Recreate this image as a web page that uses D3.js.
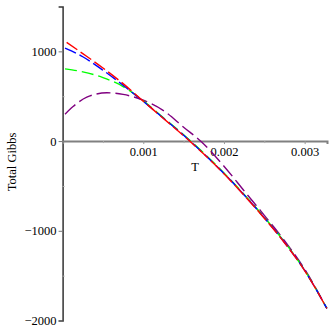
<!DOCTYPE html>
<html>
<head>
<meta charset="utf-8">
<script src="https://cdn.jsdelivr.net/npm/d3@7"></script>
<style>
  html, body { margin: 0; padding: 0; background: #fff; }
</style>
</head>
<body>
<div id="chart"></div>
<script>
// T values (x) and Total Gibbs values (y)
const redT = [0.00005, 0.00025, 0.0005, 0.00075, 0.001, 0.00125, 0.0015, 0.00175, 0.002, 0.00225, 0.0025, 0.00275, 0.003, 0.003275];
const redG = [1100, 975, 815, 640, 445, 252, 60, -145, -365, -605, -860, -1133, -1444, -1865];

const blueT = [0.00003, 0.00025, 0.0005, 0.00075, 0.001, 0.00125, 0.0015, 0.00175, 0.002, 0.00225, 0.0025, 0.00275, 0.003, 0.003275];
const blueG = [1035, 940, 790, 622, 442, 255, 64, -141, -361, -601, -856, -1130, -1442, -1865];

const greenT = [0.00003, 0.00025, 0.0005, 0.00075, 0.001, 0.00125, 0.0015, 0.00175, 0.002, 0.00225, 0.0025, 0.00275, 0.003, 0.003275];
const greenG = [805, 772, 708, 608, 448, 260, 70, -135, -355, -595, -850, -1125, -1440, -1865];

const purpleT = [0.00003, 0.00013, 0.0003, 0.00055, 0.00075, 0.001, 0.00125, 0.0015, 0.00172, 0.002, 0.00225, 0.0025, 0.00275, 0.003, 0.003275];
const purpleG = [300, 385, 490, 538, 520, 455, 340, 155, -8, -280, -555, -828, -1110, -1428, -1865];

const xTicks = [0.001, 0.002, 0.003];
const xMinor = [0.0005, 0.0015, 0.0025];
const yTicks = [-2000, -1000, 0, 1000];
const yMinor = [-1500, -500, 500];

const width = 332;
const height = 332;

const x = d3.scaleLinear()
  .domain([0, 0.003277])
  .range([62.6, 327]);

const y = d3.scaleLinear()
  .domain([-2000, 1500])
  .range([320.5, 6.5]);

const svg = d3.create("svg")
  .attr("width", width)
  .attr("height", height)
  .style("display", "block")
  .style("font-family", "'Liberation Serif', 'DejaVu Serif', serif");

// y axis
const yAxis = svg.append("g")
  .attr("transform", `translate(${x(0)},0)`)
  .call(d3.axisLeft(y)
    .tickValues(yTicks)
    .tickSize(4)
    .tickPadding(2)
    .tickFormat(d3.format("d")));

yAxis.select(".domain")
  .attr("stroke", "#333")
  .attr("stroke-width", 1.5);

yAxis.selectAll(".tick line")
  .attr("stroke", "#777");

yAxis.selectAll("text")
  .attr("fill", "#000")
  .style("font-size", "12.5px")
  .style("font-family", "'Liberation Serif', serif");

svg.append("g")
  .attr("transform", `translate(${x(0)},0)`)
  .call(d3.axisRight(y)
    .tickValues(yMinor)
    .tickSize(2)
    .tickFormat(""))
  .call(g => g.select(".domain").remove())
  .selectAll(".tick line")
  .attr("stroke", "#aaa");

// x axis at G = 0
const xAxis = svg.append("g")
  .attr("transform", `translate(0,${y(0)})`)
  .call(d3.axisBottom(x)
    .tickValues(xTicks)
    .tickSize(3)
    .tickPadding(3)
    .tickFormat(d3.format(".3f")));

xAxis.select(".domain")
  .attr("stroke", "#808080")
  .attr("stroke-width", 2);

xAxis.selectAll(".tick line")
  .attr("stroke", "#999");

xAxis.selectAll("text")
  .attr("fill", "#000")
  .style("font-size", "12.5px")
  .style("font-family", "'Liberation Serif', serif");

svg.append("g")
  .attr("transform", `translate(0,${y(0)})`)
  .call(d3.axisBottom(x)
    .tickValues(xMinor)
    .tickSize(2)
    .tickFormat(""))
  .call(g => g.select(".domain").remove())
  .selectAll(".tick line")
  .attr("stroke", "#aaa");

// axis titles
svg.append("text")
  .attr("x", 195)
  .attr("y", 171)
  .attr("text-anchor", "middle")
  .style("font-size", "12.5px")
  .text("T");

svg.append("text")
  .attr("transform", "translate(16,162) rotate(-90)")
  .attr("text-anchor", "middle")
  .style("font-size", "12.5px")
  .text("Total Gibbs");

// curves
const series = [
  { name: "purple", t: purpleT, g: purpleG, color: "#800080", dash: "14,5" },
  { name: "green", t: greenT, g: greenG, color: "#00ff00", dash: "12,5" },
  { name: "blue", t: blueT, g: blueG, color: "#0000ff", dash: "12,4" },
  { name: "red", t: redT, g: redG, color: "#ff0000", dash: "13,4" }
];

const line = d3.line()
  .x(d => x(d[0]))
  .y(d => y(d[1]))
  .curve(d3.curveMonotoneX);

svg.append("g")
  .selectAll("path")
  .data(series)
  .join("path")
  .attr("fill", "none")
  .attr("stroke", d => d.color)
  .attr("stroke-width", 1.4)
  .attr("stroke-dasharray", d => d.dash)
  .attr("d", d => line(d.t.map((v, i) => [v, d.g[i]])));

document.getElementById("chart").append(svg.node());
</script>
</body>
</html>
